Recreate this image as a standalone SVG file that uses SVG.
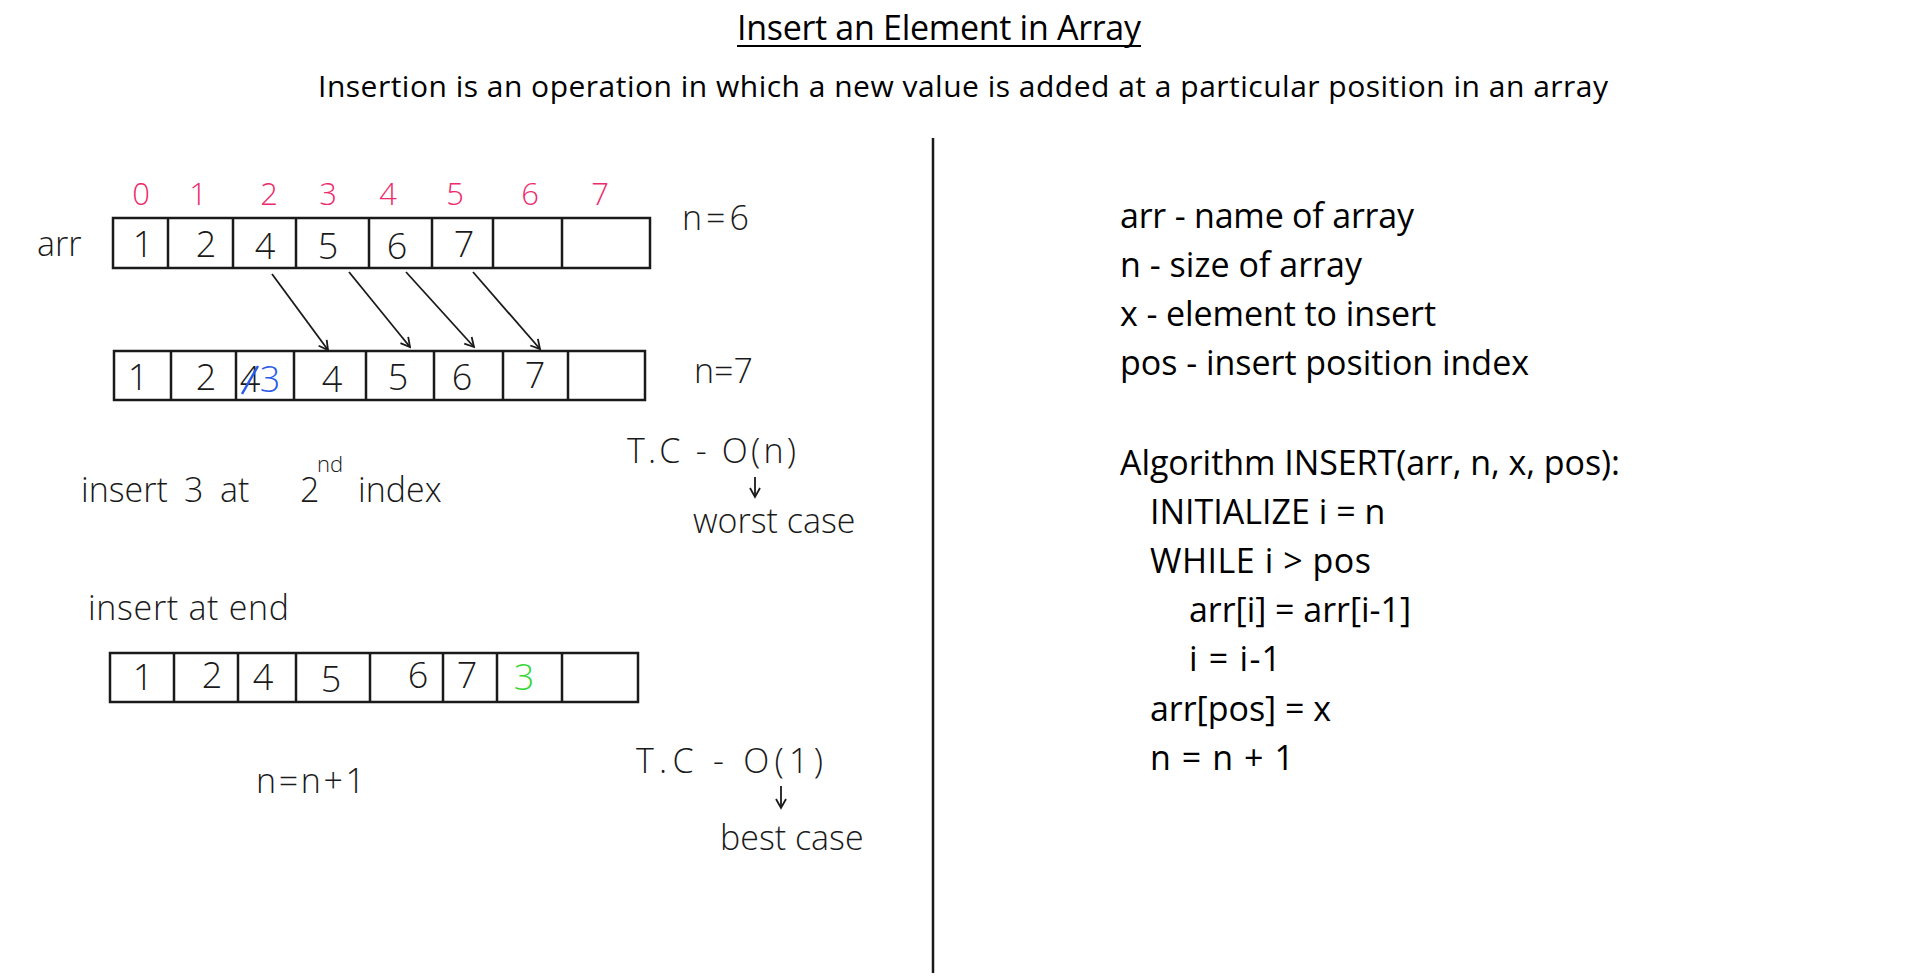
<svg xmlns="http://www.w3.org/2000/svg" width="1920" height="976" viewBox="0 0 1920 976">
<defs>
<style>
.print{font-family:"Open Sans","Noto Sans",sans-serif;fill:#000}
.title{font-size:34px}
.sub{font-size:30px}
.code{font-size:34px}
.hand{font-family:"Open Sans","DejaVu Sans",sans-serif;font-weight:300;fill:#1a1a1a}
.val{font-size:36px;text-anchor:middle}
.idx{font-size:31px;text-anchor:middle;fill:#ee2b6c}
.note{font-size:34px}
.cell{fill:none;stroke:#1a1a1a;stroke-width:2.5}
.arrow{fill:none;stroke:#1a1a1a;stroke-width:1.8;marker-end:url(#vhead)}
</style>
<marker id="vhead" viewBox="0 0 12 12" refX="10" refY="6" markerWidth="12" markerHeight="12" markerUnits="userSpaceOnUse" orient="auto">
<path d="M1,1 L10,6 L1,11" fill="none" stroke="#1a1a1a" stroke-width="1.8"/>
</marker>
</defs>
<rect width="1920" height="976" fill="#fff"/>

<g id="title">
<text class="print title" x="737" y="40" textLength="404">Insert an Element in Array</text>
<line x1="737" y1="46" x2="1141" y2="46" stroke="#000" stroke-width="1.8"/>
</g>
<g id="subtitle">
<text class="print sub" x="318" y="97" textLength="1290">Insertion is an operation in which a new value is added at a particular position in an array</text>
</g>

<g id="divider">
<line x1="933" y1="138" x2="933" y2="973" stroke="#1a1a1a" stroke-width="2.5"/>
</g>

<g id="array1">
<text class="hand note" x="37" y="256">arr</text>
<rect class="cell" x="113" y="218" width="537" height="50"/>
<path class="cell" d="M168,218V268M233,218V268M296,218V268M369,218V268M432,218V268M493,218V268M562,218V268"/>
<text class="hand idx" x="141" y="205">0</text>
<text class="hand idx" x="198" y="205">1</text>
<text class="hand idx" x="269" y="205">2</text>
<text class="hand idx" x="328" y="205">3</text>
<text class="hand idx" x="388" y="205">4</text>
<text class="hand idx" x="455" y="205">5</text>
<text class="hand idx" x="530" y="205">6</text>
<text class="hand idx" x="600" y="205">7</text>
<text class="hand val" x="143" y="257">1</text>
<text class="hand val" x="206" y="257">2</text>
<text class="hand val" x="265" y="259">4</text>
<text class="hand val" x="328" y="259">5</text>
<text class="hand val" x="397" y="259">6</text>
<text class="hand val" x="464" y="257">7</text>
<text class="hand note" x="682" y="230" textLength="67">n=6</text>
</g>

<g id="array2">
<rect class="cell" x="114" y="351" width="531" height="49"/>
<path class="cell" d="M171,351V400M236,351V400M294,351V400M366,351V400M434,351V400M503,351V400M568,351V400"/>
<text class="hand val" x="138" y="390">1</text>
<text class="hand val" x="206" y="390">2</text>
<text class="hand val" x="250" y="392">4</text>
<line x1="242" y1="394" x2="258" y2="366" stroke="#2a5ae8" stroke-width="2.5"/>
<text class="hand val" x="270" y="392" style="fill:#2a5ae8">3</text>
<text class="hand val" x="332" y="392">4</text>
<text class="hand val" x="398" y="390">5</text>
<text class="hand val" x="462" y="390">6</text>
<text class="hand val" x="535" y="388">7</text>
<text class="hand note" x="694" y="383">n=7</text>
</g>

<g id="notes1">
<text class="hand note" y="502"><tspan x="81">insert</tspan><tspan x="184">3</tspan><tspan x="220">at</tspan><tspan x="300">2</tspan><tspan font-size="22" dy="-30" x="317">nd</tspan><tspan dy="30" x="358">index</tspan></text>
<text class="hand note" x="627" y="463" textLength="169">T.C - O(n)</text>
<text class="hand note" x="693" y="533">worst case</text>
</g>

<g id="array3">
<text class="hand note" x="88" y="620" textLength="201">insert at end</text>
<rect class="cell" x="110" y="653" width="528" height="49"/>
<path class="cell" d="M174,653V702M238,653V702M296,653V702M370,653V702M443,653V702M497,653V702M562,653V702"/>
<text class="hand val" x="143" y="690">1</text>
<text class="hand val" x="212" y="688">2</text>
<text class="hand val" x="263" y="690">4</text>
<text class="hand val" x="331" y="692">5</text>
<text class="hand val" x="418" y="688">6</text>
<text class="hand val" x="467" y="688">7</text>
<text class="hand val" x="524" y="690" style="fill:#3ad63a">3</text>
<text class="hand note" x="256" y="793" textLength="109">n=n+1</text>
</g>

<g id="notes2">
<text class="hand note" x="636" y="773" textLength="187">T.C - O(1)</text>
<text class="hand note" x="720" y="850">best case</text>
</g>

<g id="legend">
<text class="print code" x="1120" y="228" textLength="294">arr - name of array</text>
<text class="print code" x="1120" y="277" textLength="242">n - size of array</text>
<text class="print code" x="1120" y="326" textLength="316">x - element to insert</text>
<text class="print code" x="1120" y="375" textLength="409">pos - insert position index</text>
</g>

<g id="algorithm">
<text class="print code" x="1120" y="475" textLength="500">Algorithm INSERT(arr, n, x, pos):</text>
<text class="print code" x="1150" y="524" font-size="32">INITIALIZE i = n</text>
<text class="print code" x="1150" y="573" textLength="221">WHILE i &gt; pos</text>
<text class="print code" x="1189" y="622" textLength="222">arr[i] = arr[i-1]</text>
<text class="print code" x="1189" y="671" textLength="92">i = i-1</text>
<text class="print code" x="1150" y="721" textLength="181">arr[pos] = x</text>
<text class="print code" x="1150" y="770" textLength="144">n = n + 1</text>
</g>

<g id="connectors">
<line class="arrow" x1="272" y1="274" x2="328" y2="350"/>
<line class="arrow" x1="349" y1="272" x2="410" y2="347"/>
<line class="arrow" x1="406" y1="272" x2="474" y2="347"/>
<line class="arrow" x1="473" y1="272" x2="540" y2="349"/>
<line class="arrow" x1="755" y1="477" x2="755" y2="497"/>
<line class="arrow" x1="781" y1="786" x2="781" y2="808"/>
</g>
</svg>
